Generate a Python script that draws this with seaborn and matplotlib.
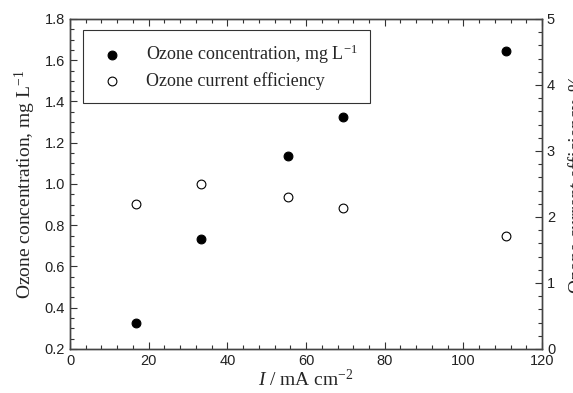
import numpy as np
import pandas as pd
import matplotlib
matplotlib.use("Agg")
import matplotlib.pyplot as plt
import seaborn as sns
from matplotlib.ticker import MultipleLocator

# current density, mA cm-2
current = [16.7, 33.3, 55.4, 69.3, 110.8]
# ozone concentration, mg L-1
conc = [0.327, 0.735, 1.138, 1.323, 1.647]
# ozone current efficiency, %
eff = [2.20, 2.50, 2.31, 2.14, 1.71]

df = pd.DataFrame({"I": current, "conc": conc, "eff": eff})

sns.set_style("ticks")
plt.rcParams["font.family"] = ["Liberation Sans", "DejaVu Sans"]
plt.rcParams["mathtext.fontset"] = "custom"
plt.rcParams["mathtext.rm"] = "Liberation Serif"
plt.rcParams["mathtext.it"] = "Liberation Serif:italic"
plt.rcParams["xtick.direction"] = "in"
plt.rcParams["ytick.direction"] = "in"

serif = {"family": "Liberation Serif", "size": 14}

fig = plt.figure(figsize=(5.73, 3.93), dpi=100)
ax = fig.add_axes([0.1222, 0.112, 0.8238, 0.8397])
ax2 = ax.twinx()

sns.scatterplot(data=df, x="I", y="conc", ax=ax, s=40, color="black",
                edgecolor="black", linewidth=0.8, zorder=3,
                label="Ozone concentration, mg L$^{-1}$", legend=False)
sns.scatterplot(data=df, x="I", y="eff", ax=ax2, s=40, facecolor="white",
                edgecolor="black", linewidth=0.8, zorder=3,
                label="Ozone current efficiency", legend=False)

ax.set_xlim(0, 120)
ax.set_ylim(0.2, 1.8)
ax2.set_ylim(0, 5)
ax.xaxis.set_major_locator(MultipleLocator(20))
ax.xaxis.set_minor_locator(MultipleLocator(4))
ax.yaxis.set_major_locator(MultipleLocator(0.2))
ax.yaxis.set_minor_locator(MultipleLocator(0.05))
ax2.yaxis.set_major_locator(MultipleLocator(1))
ax2.yaxis.set_minor_locator(MultipleLocator(0.2))
ax.yaxis.set_major_formatter(matplotlib.ticker.FormatStrFormatter("%.1f"))

ax.tick_params(axis="x", which="both", top=True, bottom=True)
for a in (ax, ax2):
    a.tick_params(which="major", length=5, width=0.8, labelsize=10.5,
                  colors="#333333", labelcolor="#222222")
    a.tick_params(which="minor", length=3, width=0.8, colors="#333333")
    for sp in a.spines.values():
        sp.set_color("#444444")
        sp.set_linewidth(1.0)

ax.set_xlabel("$I$ / mA cm$^{-2}$", fontdict=serif, labelpad=1)
ax.set_ylabel("Ozone concentration, mg L$^{-1}$", fontdict=serif, labelpad=5)
ax2.set_ylabel("Ozone current efficiency, %", fontdict=serif, labelpad=9)

h1, l1 = ax.get_legend_handles_labels()
h2, l2 = ax2.get_legend_handles_labels()
leg = ax.legend(h1 + h2, l1 + l2, loc="upper left", bbox_to_anchor=(0.027, 0.967),
                prop={"family": "Liberation Serif", "size": 13},
                frameon=True, fancybox=False, edgecolor="black",
                borderpad=0.7, handletextpad=1.0, labelspacing=0.35,
                handlelength=1.8, borderaxespad=0)
leg.get_frame().set_linewidth(0.8)
leg.set_zorder(5)

fig.savefig("out.png", dpi=100)
